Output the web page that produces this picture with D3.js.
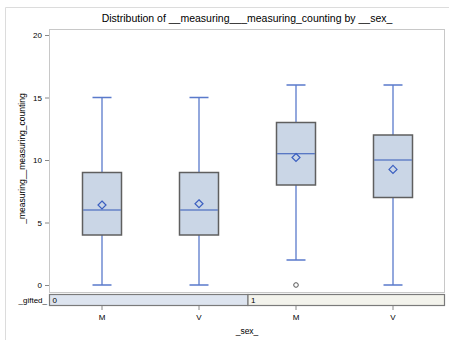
<!DOCTYPE html>
<html>
<head>
<meta charset="utf-8">
<script src="https://cdn.jsdelivr.net/npm/d3@7"></script>
<style>
  body { margin: 0; background: #fff; }
  text { font-family: "Liberation Sans", Arial, sans-serif; fill: #000; }
</style>
</head>
<body>
<script>
  // box plot data
  var categories = ["0|M", "0|V", "1|M", "1|V"];
  var sexLabels = ["M", "V", "M", "V"];
  var giftedGroups = ["0", "1"];
  var q1 = [4, 4, 8, 7];
  var medians = [6, 6, 10.5, 10];
  var q3 = [9, 9, 13, 12];
  var whiskerLow = [0, 0, 2, 0];
  var whiskerHigh = [15, 15, 16, 16];
  var means = [6.4, 6.5, 10.2, 9.25];
  var outliers = [[], [], [0], []];
  var yTicks = [0, 5, 10, 15, 20];

  var width = 449, height = 340;
  var plotLeft = 49, plotRight = 445, plotTop = 29, plotBottom = 292;

  var svg = d3.select("body").append("svg")
    .attr("width", width)
    .attr("height", height);

  // outer frame
  svg.append("path")
    .attr("d", "M5.5," + height + "V7.5H" + width)
    .attr("fill", "none")
    .attr("stroke", "#dcdcdc");

  var x = d3.scaleBand()
    .domain(categories)
    .range([plotLeft + 4.5, plotRight - 3.5]);
  var y = d3.scaleLinear()
    .domain([0, 20])
    .range([285, 35]);

  // title
  svg.append("text")
    .attr("x", (plotLeft + plotRight) / 2)
    .attr("y", 22)
    .attr("text-anchor", "middle")
    .style("font-size", "10.5px")
    .text("Distribution of __measuring___measuring_counting by __sex_");

  // plot wall
  svg.append("rect")
    .attr("x", plotLeft + 0.5)
    .attr("y", plotTop + 0.5)
    .attr("width", plotRight - plotLeft - 1)
    .attr("height", plotBottom - plotTop)
    .attr("fill", "#fff")
    .attr("stroke", "#c8c8c8");

  // y axis
  var yAxis = svg.append("g")
    .attr("transform", "translate(" + plotLeft + ",0)")
    .call(d3.axisLeft(y).tickValues(yTicks).tickSize(4).tickPadding(3));
  yAxis.select(".domain").remove();
  yAxis.selectAll("line").attr("stroke", "#888");
  yAxis.selectAll("text").style("font-size", "8px").style("font-family", "Liberation Sans, Arial, sans-serif");

  svg.append("text")
    .attr("transform", "translate(25," + ((plotTop + plotBottom) / 2 - 2) + ") rotate(-90)")
    .attr("text-anchor", "middle")
    .style("font-size", "8.5px")
    .text("_measuring__measuring_counting");

  var boxW = 39, capW = 19;
  var idx = d3.range(categories.length);
  var cx = function(i) { return x(categories[i]) + x.bandwidth() / 2; };

  var g = svg.append("g");

  // whiskers
  g.selectAll(".whisker")
    .data(idx).enter().append("path")
    .attr("d", function(i) {
      var c = cx(i);
      return "M" + c + "," + y(whiskerHigh[i]) + "V" + y(q3[i]) +
             "M" + c + "," + y(q1[i]) + "V" + y(whiskerLow[i]) +
             "M" + (c - capW / 2) + "," + y(whiskerHigh[i]) + "H" + (c + capW / 2) +
             "M" + (c - capW / 2) + "," + y(whiskerLow[i]) + "H" + (c + capW / 2);
    })
    .attr("fill", "none")
    .attr("stroke", "#5a7acb")
    .attr("stroke-width", 1.3);

  // boxes
  g.selectAll(".box")
    .data(idx).enter().append("rect")
    .attr("x", function(i) { return cx(i) - boxW / 2; })
    .attr("y", function(i) { return y(q3[i]); })
    .attr("width", boxW)
    .attr("height", function(i) { return y(q1[i]) - y(q3[i]); })
    .attr("fill", "#cad6e6")
    .attr("stroke", "#5f5f5f")
    .attr("stroke-width", 1.5);

  // medians
  g.selectAll(".median")
    .data(idx).enter().append("line")
    .attr("x1", function(i) { return cx(i) - boxW / 2 + 0.7; })
    .attr("x2", function(i) { return cx(i) + boxW / 2 - 0.7; })
    .attr("y1", function(i) { return y(medians[i]); })
    .attr("y2", function(i) { return y(medians[i]); })
    .attr("stroke", "#3358b8")
    .attr("stroke-width", 1.2);

  // means
  g.selectAll(".mean")
    .data(idx).enter().append("path")
    .attr("transform", function(i) { return "translate(" + cx(i) + "," + y(means[i]) + ")"; })
    .attr("d", "M0,-4L4,0L0,4L-4,0Z")
    .attr("fill", "none")
    .attr("stroke", "#3b5fc0")
    .attr("stroke-width", 1.2);

  // outliers
  idx.forEach(function(i) {
    g.selectAll(null)
      .data(outliers[i]).enter().append("circle")
      .attr("cx", cx(i))
      .attr("cy", function(v) { return y(v); })
      .attr("r", 2.3)
      .attr("fill", "none")
      .attr("stroke", "#555")
      .attr("stroke-width", 1);
  });

  // _gifted_ strip
  var stripTop = 294, stripH = 11;
  var stripMid = (plotLeft + plotRight) / 2 + 1;
  var stripFill = ["#dde4ef", "#f3f3ec"];
  var stripX = [plotLeft + 0.5, stripMid];
  var stripW = [stripMid - plotLeft - 0.5, plotRight - stripMid - 0.5];
  svg.selectAll(".strip")
    .data(giftedGroups).enter().append("rect")
    .attr("x", function(d, i) { return stripX[i]; })
    .attr("y", stripTop + 0.5)
    .attr("width", function(d, i) { return stripW[i]; })
    .attr("height", stripH)
    .attr("fill", function(d, i) { return stripFill[i]; })
    .attr("stroke", "#7a7a7a")
    .attr("stroke-width", 1.2);
  svg.selectAll(".stripLabel")
    .data(giftedGroups).enter().append("text")
    .attr("x", function(d, i) { return stripX[i] + 3; })
    .attr("y", stripTop + 9)
    .style("font-size", "8px")
    .text(function(d) { return d; });
  svg.append("text")
    .attr("x", plotLeft - 2)
    .attr("y", stripTop + 9)
    .attr("text-anchor", "end")
    .style("font-size", "8px")
    .text("_gifted_");

  // x axis
  var xAxis = svg.append("g")
    .attr("transform", "translate(0," + (stripTop + stripH + 1) + ")")
    .call(d3.axisBottom(x).tickSize(4).tickPadding(4)
      .tickFormat(function(d, i) { return sexLabels[i]; }));
  xAxis.select(".domain").remove();
  xAxis.selectAll("line").attr("stroke", "#888");
  xAxis.selectAll("text").style("font-size", "8px").style("font-family", "Liberation Sans, Arial, sans-serif");

  svg.append("text")
    .attr("x", (plotLeft + plotRight) / 2)
    .attr("y", 334)
    .attr("text-anchor", "middle")
    .style("font-size", "8.5px")
    .text("_sex_");
</script>
</body>
</html>
